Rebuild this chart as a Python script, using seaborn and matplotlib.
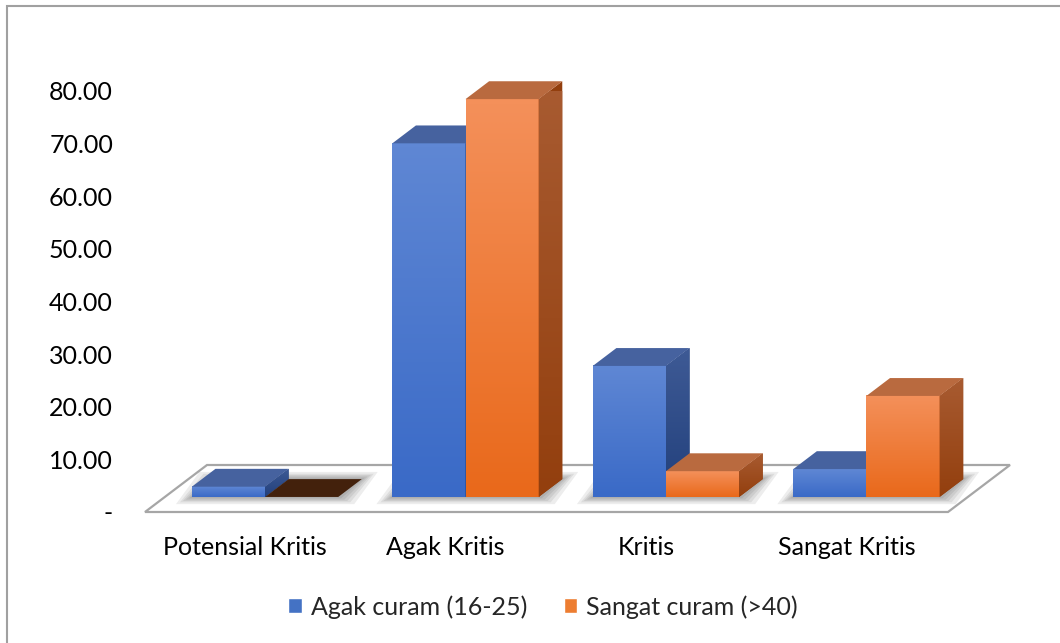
import matplotlib
matplotlib.use("Agg")
import matplotlib.pyplot as plt
import numpy as np
import pandas as pd
import seaborn as sns
from matplotlib.colors import LinearSegmentedColormap
from matplotlib.patches import Polygon, Rectangle

# data
categories = ["Potensial Kritis", "Agak Kritis", "Kritis", "Sangat Kritis"]
series = ["Agak curam (16-25)", "Sangat curam (>40)"]
agak_curam = [1.95, 67.2, 24.9, 5.3]
sangat_curam = [0.0, 75.6, 4.9, 19.2]
y_ticks = [0, 10, 20, 30, 40, 50, 60, 70, 80]
y_labels = ["-"] + [f"{v:.2f}" for v in y_ticks[1:]]

# face shades for the fake 3D look
colors = {
    series[0]: dict(base="#4472c4", light="#5f87d4", dark="#3a6ac7", top="#46629f",
                    side_top="#3e5a95", side_bottom="#22407c"),
    series[1]: dict(base="#ed7d31", light="#f4905a", dark="#e9691b", top="#b96a3f",
                    side_top="#a85b31", side_bottom="#933f0e"),
}
EMPTY_TOP = "#43210c"

W, H = 1060, 643
FLOOR_DEPTH = (62, 47)            # px offset of the floor's back edge
BAR_FRONT, BAR_BACK = 0.32, 0.70  # bar depth as fraction of the floor depth

df = pd.DataFrame({
    "kategori": categories * 2,
    "kelas": [series[0]] * len(categories) + [series[1]] * len(categories),
    "nilai": agak_curam + sangat_curam,
})

sns.set_theme(style="white")
plt.rcParams["font.family"] = ["Lato", "DejaVu Sans"]

fig = plt.figure(figsize=(W / 100, H / 100), dpi=100)
ax = fig.add_axes([145 / W, 131 / H, 865 / W, 421 / H])
sns.barplot(data=df, x="kategori", y="nilai", hue="kelas", order=categories,
            hue_order=series, palette=[colors[s]["base"] for s in series],
            saturation=1, width=0.73, errorbar=None, legend=False, ax=ax)
xlim = (-0.5, 3.815)
ax.set_xlim(*xlim)
ax.set_ylim(0, 80)


def px(dx, dy):
    """Convert a pixel offset into data units."""
    inv = ax.transData.inverted()
    (x0, y0), (x1, y1) = inv.transform([(0, 0), (dx, dy)])
    return x1 - x0, y1 - y0


fdx, fdy = px(*FLOOR_DEPTH)
ddx, ddy = (BAR_BACK - BAR_FRONT) * fdx, (BAR_BACK - BAR_FRONT) * fdy
y0 = BAR_FRONT * fdy

# floor
floor = Polygon([(xlim[0], 0), (xlim[1] - fdx, 0), (xlim[1], fdy), (xlim[0] + fdx, fdy)],
                closed=True, facecolor="white", edgecolor="#a6a6a6", lw=1.6,
                zorder=1, clip_on=False)
ax.add_patch(floor)

bars = []
for s, cont in zip(series, ax.containers):
    for p in cont.patches:
        bars.append((p, s))
bars.sort(key=lambda t: t[0].get_x())

# soft shadow under each category group
for i in range(0, len(bars), 2):
    gx0 = bars[i][0].get_x() + BAR_FRONT * fdx
    gx1 = bars[i + 1][0].get_x() + bars[i + 1][0].get_width() + BAR_FRONT * fdx
    for e in [16, 12, 9, 6, 3]:
        ex, _ = px(e, 0)
        _, ey = px(0, e * 0.45)
        ax.add_patch(Polygon([(gx0 - ex, y0 - ey), (gx1 + ex, y0 - ey),
                              (gx1 + ddx + ex, y0 + ddy + ey), (gx0 + ddx - ex, y0 + ddy + ey)],
                             closed=True, facecolor="black", edgecolor="none", alpha=0.07,
                             zorder=2, clip_on=False))

grad = np.linspace(1, 0, 64).reshape(-1, 1)
for k, (p, s) in enumerate(bars):
    c = colors[s]
    z = 4 + 4 * k
    x = p.get_x() + BAR_FRONT * fdx
    w, h = p.get_width(), p.get_height()
    top = y0 + h
    p.set_x(x)
    p.set_y(y0)
    p.set_edgecolor("none")
    p.set_zorder(z)
    p.set_clip_on(False)
    if h > 0:
        cmap = LinearSegmentedColormap.from_list("front", [c["dark"], c["light"]])
        ax.imshow(grad, extent=(x, x + w, y0, top), cmap=cmap, aspect="auto",
                  interpolation="bilinear", zorder=z + 0.5, clip_on=False)
        side = Polygon([(x + w, y0), (x + w + ddx, y0 + ddy), (x + w + ddx, top + ddy), (x + w, top)],
                       closed=True, facecolor=c["side_bottom"], edgecolor="none",
                       zorder=z + 1, clip_on=False)
        ax.add_patch(side)
        scmap = LinearSegmentedColormap.from_list("side", [c["side_bottom"], c["side_top"]])
        im = ax.imshow(grad, extent=(x + w, x + w + ddx, y0, top + ddy), cmap=scmap,
                       aspect="auto", interpolation="bilinear", zorder=z + 1.5)
        im.set_clip_path(side)
    top_color = c["top"] if h > 0 else EMPTY_TOP
    ax.add_patch(Polygon([(x, top), (x + w, top), (x + w + ddx, top + ddy), (x + ddx, top + ddy)],
                         closed=True, facecolor=top_color, edgecolor="none",
                         zorder=z + 2, clip_on=False))

ax.set_xlim(*xlim)
ax.set_ylim(0, 80)

ax.set_yticks(y_ticks, y_labels)
ax.set_xticks(range(len(categories)), categories)
ax.set_xlabel("")
ax.set_ylabel("")
ax.tick_params(axis="y", length=0, pad=23, labelsize=18, labelcolor="black")
ax.tick_params(axis="x", length=0, pad=17, labelsize=18, labelcolor="black")
for sp in ax.spines.values():
    sp.set_visible(False)
ax.patch.set_visible(False)

handles = [Rectangle((0, 0), 1, 1, facecolor=colors[s]["base"]) for s in series]
fig.legend(handles, series, loc="center", bbox_to_anchor=(543 / W, 1 - 607 / H), ncol=2,
           frameon=False, fontsize=18, handlelength=0.55, handleheight=0.55,
           handletextpad=0.35, columnspacing=1.45)

# chart area border (only left and top edges fall inside the picture)
fig.add_artist(Rectangle((6.5 / W, -0.1), 2, 1.1 - 6.5 / H, transform=fig.transFigure,
                         facecolor="none", edgecolor="#a0a0a0", lw=1.5))

fig.savefig("out.png", dpi=100, facecolor="white")
